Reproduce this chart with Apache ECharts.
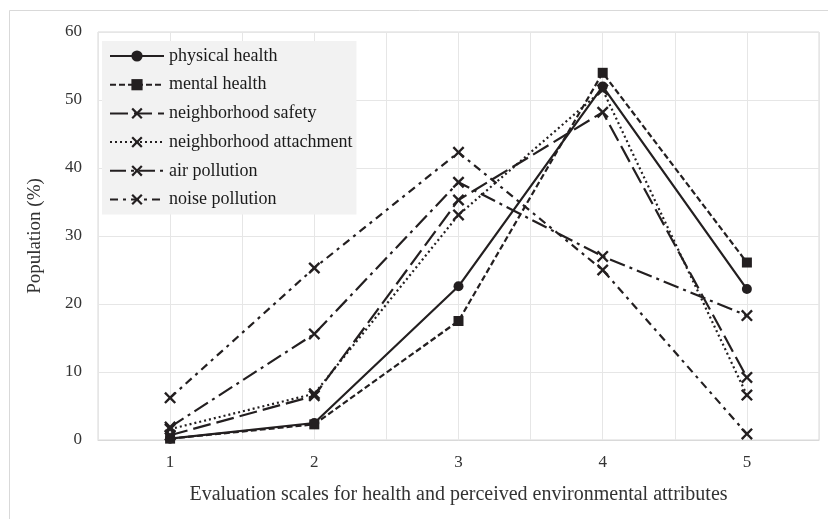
<!DOCTYPE html>
<html>
<head>
<meta charset="utf-8">
<script src="https://cdn.jsdelivr.net/npm/echarts@6/dist/echarts.min.js"></script>
<style>
  html, body { margin: 0; padding: 0; background: #fff; }
  #chart { width: 828px; height: 519px; }
</style>
</head>
<body>
<div id="chart"></div>
<script>
// evaluation scale 1..5
const scales = [1, 2, 3, 4, 5];
const yTicks = [0, 10, 20, 30, 40, 50, 60];

const physicalHealth = [0.2, 2.5, 22.6, 52.0, 22.2];
const mentalHealth = [0.2, 2.3, 17.5, 54.0, 26.1];
const neighborhoodSafety = [0.7, 6.5, 35.3, 48.2, 9.2];
const neighborhoodAttachment = [1.6, 6.8, 33.1, 51.5, 6.6];
const airPollution = [1.9, 15.6, 37.9, 27.0, 18.3];
const noisePollution = [6.2, 25.3, 42.3, 25.0, 0.9];

const FONT = '"Liberation Serif", "DejaVu Serif", serif';
const INK = '#231f20';
const CROSS = 'path://M0,1.4L1.4,0L5,3.6L8.6,0L10,1.4L6.4,5L10,8.6L8.6,10L5,6.4L1.4,10L0,8.6L3.6,5Z';

function pairs(values) {
  return scales.map((s, i) => [s, values[i]]);
}

function makeSeries(name, values, dash, symbol, size) {
  return {
    name: name,
    type: 'line',
    data: pairs(values),
    symbol: symbol,
    symbolSize: size,
    showAllSymbol: true,
    lineStyle: { color: INK, width: 2.2, type: dash },
    itemStyle: { color: INK },
    emphasis: { disabled: true },
    z: 3,
  };
}

const chart = echarts.init(document.getElementById('chart'));

chart.setOption({
  animation: false,
  backgroundColor: '#fff',
  graphic: [{
    type: 'rect',
    shape: { x: 9.5, y: 10.5, width: 840, height: 540 },
    style: { fill: 'none', stroke: '#d9d9d9', lineWidth: 1 },
    silent: true,
  }],
  grid: {
    left: 98, right: 9, top: 32, bottom: 79,
    show: true, borderColor: '#d9d9d9', borderWidth: 1,
  },
  legend: {
    orient: 'vertical',
    left: 102,
    top: 41,
    backgroundColor: '#f2f2f2',
    padding: [6, 4, 6, 7],
    itemWidth: 54,
    itemHeight: 14,
    itemGap: 10.7,
    textStyle: { fontFamily: FONT, fontSize: 18, lineHeight: 18, color: '#1a1a1a' },
    data: ['physical health', 'mental health', 'neighborhood safety',
      'neighborhood attachment', 'air pollution', 'noise pollution'],
  },
  xAxis: {
    type: 'value',
    min: 0.5,
    max: 5.5,
    interval: 0.5,
    name: 'Evaluation scales for health and perceived environmental attributes',
    nameLocation: 'middle',
    nameGap: 45,
    nameTextStyle: { fontFamily: FONT, fontSize: 20, color: '#333' },
    axisLine: { show: true, lineStyle: { color: '#d9d9d9', width: 1 } },
    axisTick: { show: false },
    splitLine: { show: true, lineStyle: { color: '#e6e6e6', width: 1 } },
    axisLabel: {
      fontFamily: FONT, fontSize: 17, color: '#333', margin: 14,
      formatter: (v) => (scales.indexOf(v) >= 0 ? String(v) : ''),
    },
  },
  yAxis: {
    type: 'value',
    min: yTicks[0],
    max: yTicks[yTicks.length - 1],
    interval: 10,
    name: 'Population (%)',
    nameLocation: 'middle',
    nameGap: 53,
    nameTextStyle: { fontFamily: FONT, fontSize: 19, color: '#333' },
    axisLine: { show: false },
    axisTick: { show: false },
    splitLine: { show: true, lineStyle: { color: '#e6e6e6', width: 1 } },
    axisLabel: { fontFamily: FONT, fontSize: 17, color: '#333', margin: 16 },
  },
  series: [
    makeSeries('physical health', physicalHealth, 'solid', 'circle', 10),
    makeSeries('mental health', mentalHealth, [6, 3], 'rect', 10),
    makeSeries('neighborhood safety', neighborhoodSafety, [18, 6], CROSS, 12),
    makeSeries('neighborhood attachment', neighborhoodAttachment, [2, 3], CROSS, 12),
    makeSeries('air pollution', airPollution, [16, 5, 3, 5], CROSS, 12),
    makeSeries('noise pollution', noisePollution, [8, 5, 3, 5], CROSS, 12),
  ],
});
</script>
</body>
</html>
